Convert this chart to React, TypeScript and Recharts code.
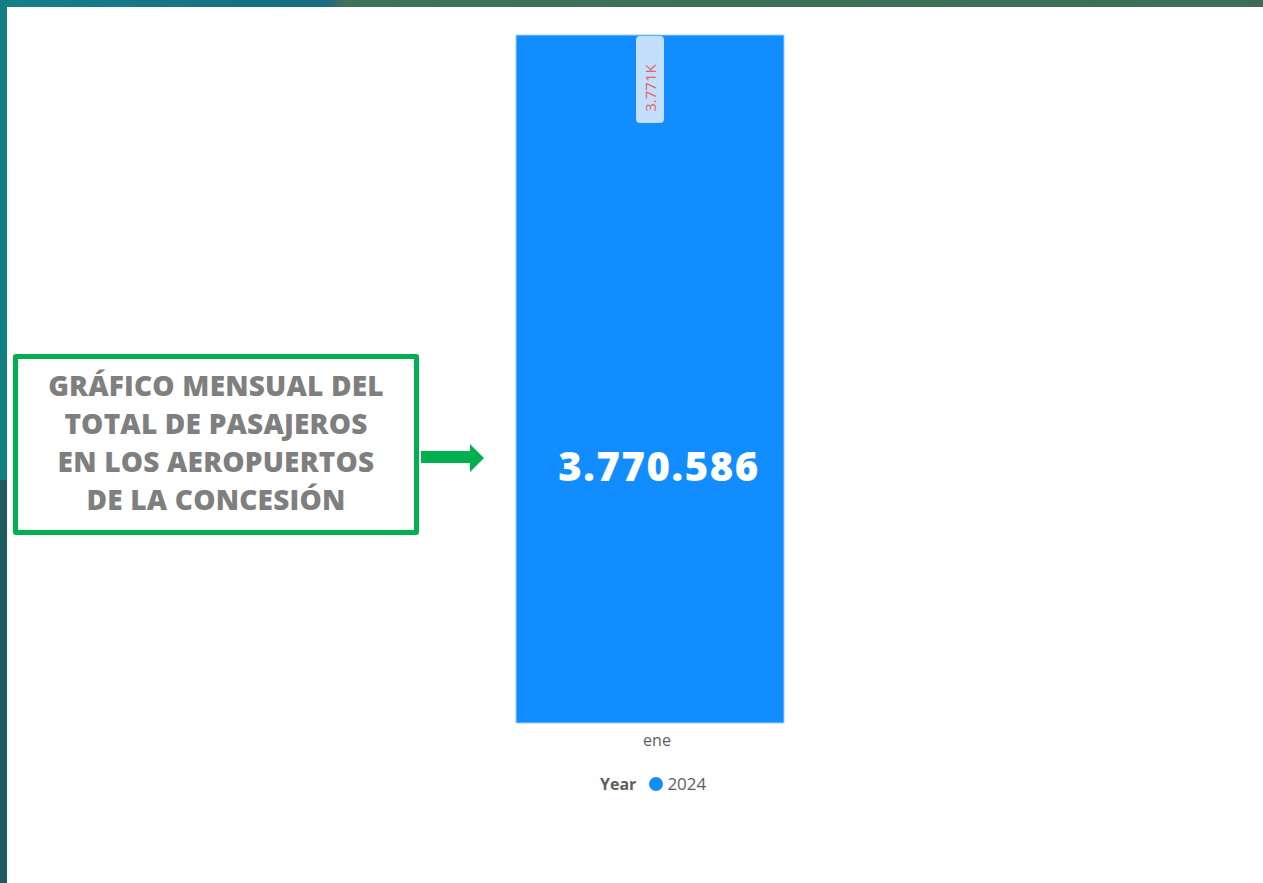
import React from 'react';
import { BarChart, Bar, XAxis, YAxis, Legend, LabelList } from 'recharts';

const months: string[] = ['ene'];
const passengers2024: number[] = [3770586];
const seriesName = '2024';
const legendTitle = 'Year';
const noteLines: string[] = [
  'GRÁFICO MENSUAL DEL',
  'TOTAL DE PASAJEROS',
  'EN LOS AEROPUERTOS',
  'DE LA CONCESIÓN',
];

const data = months.map((m, i) => ({ month: m, y2024: passengers2024[i] }));

const W = 1263;
const H = 883;
const BLUE = '#118dff';
const FONT = '"Open Sans", "Noto Sans", sans-serif';

const thousands = (v: number) => String(Math.round(v)).replace(/\B(?=(\d{3})+(?!\d))/g, '.');
const shortK = (v: number) => thousands(v / 1000) + 'K';

const TopLabel = (props: any) => {
  const { x, y, width, value } = props;
  const cx = x + width / 2;
  return (
    <g>
      <rect x={cx - 14} y={y + 1} width={28} height={87} rx={4} ry={4} fill="#c3dffc" />
      <text
        x={cx}
        y={y + 53}
        transform={`rotate(-90 ${cx} ${y + 53})`}
        textAnchor="middle"
        dominantBaseline="central"
        fill="#e8625f"
        fontSize={15}
        fontFamily={FONT}
      >
        {shortK(value)}
      </text>
    </g>
  );
};

const BigLabel = (props: any) => {
  const { x, y, width, height, value } = props;
  const cx = x + width / 2 + 9;
  const cy = y + height / 2 + 86;
  return (
    <text
      x={cx}
      y={cy}
      textAnchor="middle"
      dominantBaseline="central"
      fill="#ffffff"
      fontSize={40}
      fontWeight={800}
      fontFamily={FONT}
      letterSpacing={1.6}
    >
      {thousands(value)}
    </text>
  );
};

const LegendContent = () => (
  <div style={{ display: 'flex', alignItems: 'center', fontFamily: FONT, fontSize: 16, color: '#605e5c' }}>
    <span style={{ fontWeight: 700, marginRight: 13 }}>{legendTitle}</span>
    <span style={{ width: 14, height: 14, borderRadius: '50%', background: BLUE, display: 'inline-block', marginRight: 4 }} />
    <span style={{ fontSize: 17 }}>{seriesName}</span>
  </div>
);

export default function App() {
  return (
    <div style={{ position: 'fixed', left: 0, top: 0, width: W, height: H, background: '#ffffff', overflow: 'hidden' }}>
      {/* frame strips */}
      <div style={{ position: 'absolute', left: 0, top: 0, width: W, height: 7, background: 'linear-gradient(90deg, #14808a 0px, #176f7e 300px, #1e6a80 330px, #3e7259 342px, #3d6d57 100%)' }} />
      <div style={{ position: 'absolute', left: 0, top: 0, width: 7, height: 480, background: 'linear-gradient(180deg, #137d83, #0f8080)' }} />
      <div style={{ position: 'absolute', left: 0, top: 480, width: 7, height: H - 480, background: '#1e5a5f' }} />

      <div style={{ position: 'absolute', left: 0, top: 0 }}>
        <BarChart width={W} height={H} data={data} margin={{ top: 35, right: 479, left: 516, bottom: 130 }} barCategoryGap={0}>
          <XAxis
            dataKey="month"
            height={30}
            tickLine={false}
            axisLine={false}
            tickMargin={6}
            tick={{ fill: '#605e5c', fontSize: 16, fontFamily: FONT, dx: 7 }}
          />
          <YAxis hide domain={[0, passengers2024[0]]} />
          <Legend
            layout="horizontal"
            verticalAlign="middle"
            align="center"
            content={<LegendContent />}
            wrapperStyle={{ left: 600, top: 772, width: 'auto', height: 22 }}
          />
          <Bar dataKey="y2024" name={seriesName} fill={BLUE} stroke="#9fcfff" strokeWidth={1} isAnimationActive={false}>
            <LabelList dataKey="y2024" content={<TopLabel />} />
            <LabelList dataKey="y2024" content={<BigLabel />} />
          </Bar>
        </BarChart>
      </div>

      {/* annotation box */}
      <div
        style={{
          position: 'absolute',
          left: 13,
          top: 354,
          width: 406,
          height: 181,
          boxSizing: 'border-box',
          border: '5px solid #00b050',
          borderRadius: 3,
          display: 'flex',
          flexDirection: 'column',
          alignItems: 'center',
          justifyContent: 'center',
          fontFamily: FONT,
          fontWeight: 800,
          fontSize: 28,
          lineHeight: '38px',
          color: '#7f7f7f',
          letterSpacing: 0.2,
          paddingBottom: 5,
        }}
      >
        {noteLines.map((l) => (
          <div key={l} style={{ whiteSpace: 'nowrap' }}>{l}</div>
        ))}
      </div>
      <svg style={{ position: 'absolute', left: 419, top: 440 }} width={70} height={35}>
        <polygon points="2,11 51,11 51,4 65,18 51,32 51,23 2,23" fill="#00b04f" />
      </svg>
    </div>
  );
}
